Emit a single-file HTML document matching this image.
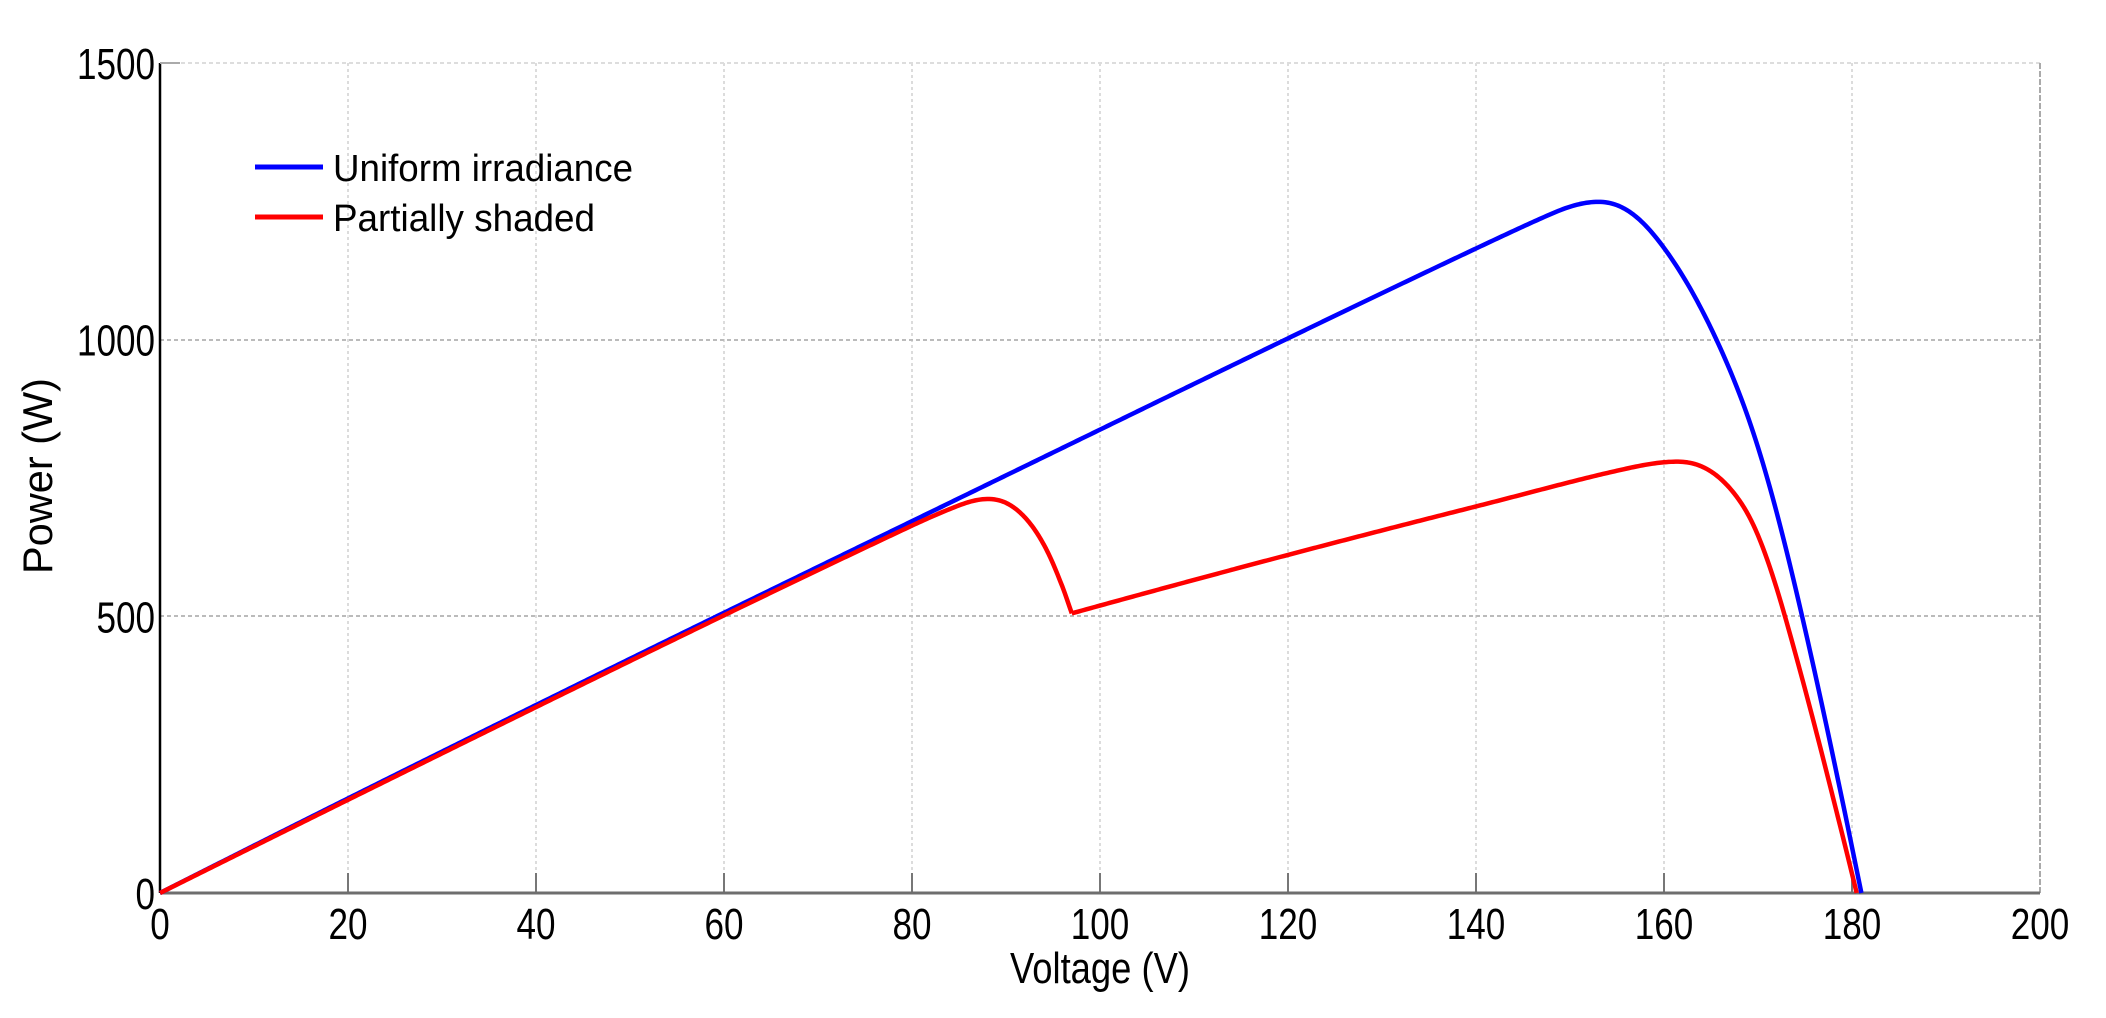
<!DOCTYPE html>
<html><head><meta charset="utf-8"><style>
html,body{margin:0;padding:0;background:#fff;}
svg{display:block;}
text{font-family:"Liberation Sans",sans-serif;fill:#000;}
</style></head><body>
<svg id="s" width="2106" height="1018" viewBox="0 0 2106 1018" xmlns="http://www.w3.org/2000/svg">
<g id="grid" stroke="#d0d0d0" stroke-width="1.5" stroke-dasharray="3,3"></g>
<line x1="160" y1="63" x2="2040" y2="63" stroke="#ddd" stroke-width="2" stroke-dasharray="4,3"/>
<line x1="160" y1="616" x2="2040" y2="616" stroke="#bbb" stroke-width="2" stroke-dasharray="4,3"/>
<line x1="160" y1="340" x2="2040" y2="340" stroke="#bbb" stroke-width="2" stroke-dasharray="4,3"/>
<line x1="2040" y1="63" x2="2040" y2="893" stroke="#aaa" stroke-width="2" stroke-dasharray="6,2"/>
<g id="ticks" stroke="#777" stroke-width="2"></g>
<line x1="160" y1="893" x2="2040" y2="893" stroke="#6e6e6e" stroke-width="3"/>
<line x1="160" y1="63" x2="160" y2="893" stroke="#000" stroke-width="2.5"/>
<line x1="160" y1="63" x2="180" y2="63" stroke="#aaa" stroke-width="2"/>
<g id="lbl" font-size="44"></g>
<path id="blue" fill="none" stroke="#0000ff" stroke-width="4.5" stroke-linejoin="round"/>
<path id="red1" fill="none" stroke="#ff0000" stroke-width="4.5" stroke-linejoin="round"/>
<path id="red2" fill="none" stroke="#ff0000" stroke-width="4.5" stroke-linejoin="round"/>
<line x1="255" y1="167" x2="323" y2="167" stroke="#0000ff" stroke-width="5"/>
<line x1="255" y1="217" x2="323" y2="217" stroke="#ff0000" stroke-width="5"/>
<text x="333" y="181" font-size="38" textLength="300" lengthAdjust="spacingAndGlyphs">Uniform irradiance</text>
<text x="333" y="231" font-size="38" textLength="262" lengthAdjust="spacingAndGlyphs">Partially shaded</text>
<text x="1100" y="983" font-size="44" text-anchor="middle" textLength="180" lengthAdjust="spacingAndGlyphs">Voltage (V)</text>
<text transform="translate(52,476) rotate(-90)" font-size="42" text-anchor="middle" textLength="196" lengthAdjust="spacingAndGlyphs">Power (W)</text>
</svg>
<script>
var X=v=>160+v*9.4, Y=p=>893-p*0.55333;
var ns="http://www.w3.org/2000/svg";
function el(par,tag,a,txt){var e=document.createElementNS(ns,tag);for(var k in a)e.setAttribute(k,a[k]);if(txt!==undefined)e.textContent=txt;document.getElementById(par).appendChild(e);}
for(var v=20;v<200;v+=20){el("grid","line",{x1:X(v),y1:63,x2:X(v),y2:893});el("ticks","line",{x1:X(v),y1:873,x2:X(v),y2:893});}
for(var v=0;v<=200;v+=20){var s=String(v);el("lbl","text",{x:X(v),y:939,"text-anchor":"middle",textLength:s.length*19.5,lengthAdjust:"spacingAndGlyphs"},s);}
[0,500,1000,1500].forEach(function(p){var s=String(p);el("lbl","text",{x:155,y:Y(p)+16,"text-anchor":"end",textLength:s.length*19.5,lengthAdjust:"spacingAndGlyphs"},s);});
function mono(pts){var n=pts.length,x=pts.map(p=>p[0]),y=pts.map(p=>p[1]),d=[],m=[];
for(var i=0;i<n-1;i++)d.push((y[i+1]-y[i])/(x[i+1]-x[i]));
m[0]=d[0];m[n-1]=d[n-2];
for(var i=1;i<n-1;i++){if(d[i-1]*d[i]<=0)m[i]=0;else{var w1=2*(x[i+1]-x[i])+(x[i]-x[i-1]),w2=(x[i+1]-x[i])+2*(x[i]-x[i-1]);m[i]=(w1+w2)/(w1/d[i-1]+w2/d[i]);}}
return function(t){var i=0;while(i<n-2&&t>x[i+1])i++;var h=x[i+1]-x[i],s=(t-x[i])/h,s2=s*s,s3=s2*s;
return (2*s3-3*s2+1)*y[i]+(s3-2*s2+s)*h*m[i]+(-2*s3+3*s2)*y[i+1]+(s3-s2)*h*m[i+1];};}
function path(pts,W){var f=mono(pts),a=pts[0][0],b=pts[pts.length-1][0],vs=[],ps=[];
for(var v=a;v<=b+1e-9;v+=0.25){var vv=Math.min(v,b);vs.push(vv);ps.push(vv*f(vv));}
var n=vs.length,sm=[];
for(var i=0;i<n;i++){var k=Math.min(W,i,n-1-i),s=0;for(var j=-k;j<=k;j++)s+=ps[i+j];sm.push(s/(2*k+1));}
var d="";for(var i=0;i<n;i++)d+=(d?" L":"M")+X(vs[i]).toFixed(2)+","+Y(sm[i]).toFixed(2);return d;}
document.getElementById("blue").setAttribute("d",path([[0,8.6],[80,8.4],[140,8.32],[150,8.28],[155,8.05],[160,7.3],[165,6.2],[170,4.78],[175,2.74],[181,0]],10));
document.getElementById("red1").setAttribute("d",path([[0,8.45],[80,8.3],[86,8.22],[89,8.0],[92,7.4],[95,6.3],[97,5.21]],5));
document.getElementById("red2").setAttribute("d",path([[97,5.21],[140,4.99],[158,4.9],[163,4.78],[167,4.4],[170,3.85],[173,2.85],[177,1.35],[180.5,0]],8));
</script>
</body></html>
